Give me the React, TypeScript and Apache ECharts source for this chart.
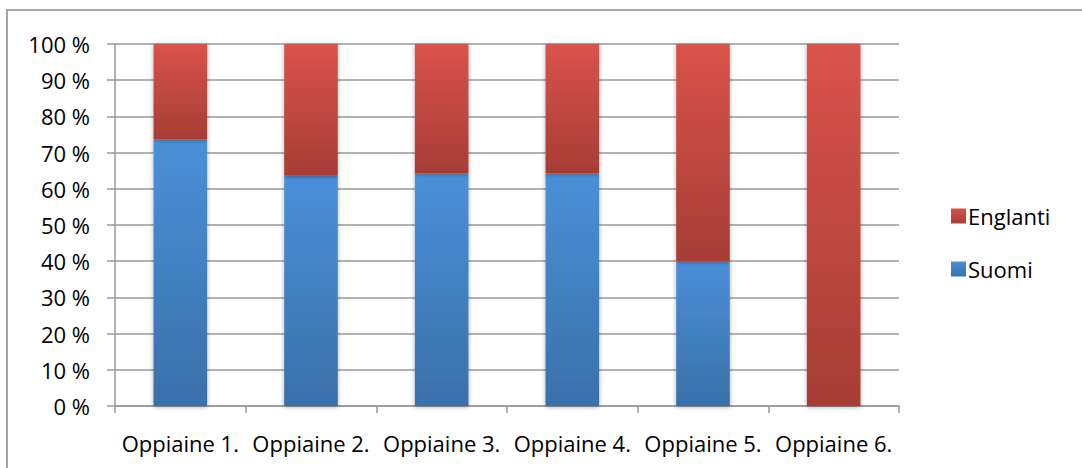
import React, { useEffect, useRef } from "react";
import * as echarts from "echarts";

// Subjects on the category axis
const categories = ["Oppiaine 1.", "Oppiaine 2.", "Oppiaine 3.", "Oppiaine 4.", "Oppiaine 5.", "Oppiaine 6."];
// Share of each language per subject, in percent
const suomi = [73.7, 63.6, 64.3, 64.3, 40, 0];
const englanti = [26.3, 36.4, 35.7, 35.7, 60, 100];
const legendOrder = ["Englanti", "Suomi"];

const FONT = "'Open Sans', 'Liberation Sans', sans-serif";
const FONT_SIZE = 22;

const grad = (top: string, bottom: string) =>
  new echarts.graphic.LinearGradient(0, 0, 0, 1, [
    { offset: 0, color: top },
    { offset: 1, color: bottom },
  ]);

export default function App() {
  const ref = useRef<HTMLDivElement>(null);

  useEffect(() => {
    if (!ref.current) return;
    const chart = echarts.init(ref.current, null, { renderer: "svg" });
    const barShadow = {
      shadowBlur: 4,
      shadowColor: "rgba(0,0,0,0.35)",
      shadowOffsetY: 1,
    };
    chart.setOption({
      animation: false,
      backgroundColor: "#ffffff",
      graphic: [
        {
          type: "rect",
          shape: { x: 7, y: 10, width: 1200, height: 600 },
          style: { fill: "none", stroke: "#a6a6a6", lineWidth: 2 },
          silent: true,
          z: 100,
        },
      ],
      grid: { left: 115, right: 183, top: 44, bottom: 62, containLabel: false },
      legend: {
        data: legendOrder,
        orient: "vertical",
        left: 946,
        top: 200,
        itemWidth: 15,
        itemHeight: 15,
        itemGap: 31,
        icon: "rect",
        textStyle: { fontFamily: FONT, fontSize: FONT_SIZE, color: "#000", padding: [0, 0, 0, -3] },
      },
      xAxis: {
        type: "category",
        data: categories,
        axisLine: { lineStyle: { color: "#999", width: 1.5 } },
        axisTick: { show: true, length: 7, lineStyle: { color: "#999", width: 1.5 } },
        axisLabel: {
          fontFamily: FONT,
          fontSize: FONT_SIZE,
          color: "#000",
          margin: 26,
          interval: 0,
          hideOverlap: false,
        },
      },
      yAxis: {
        type: "value",
        min: 0,
        max: 100,
        interval: 10,
        axisLine: { show: true, lineStyle: { color: "#999", width: 1.5 } },
        axisTick: { show: true, length: 8, inside: false, lineStyle: { color: "#999", width: 1.5 } },
        splitLine: { lineStyle: { color: "#999", width: 1.5 } },
        axisLabel: {
          fontFamily: FONT,
          fontSize: FONT_SIZE,
          color: "#000",
          margin: 25,
          formatter: (v: number) => `${v} %`,
        },
      },
      series: [
        {
          name: "Suomi",
          type: "bar",
          stack: "kieli",
          barWidth: "41%",
          data: suomi,
          itemStyle: { color: grad("#4a90d9", "#3a70a8"), ...barShadow },
        },
        {
          name: "Englanti",
          type: "bar",
          stack: "kieli",
          barWidth: "41%",
          data: englanti,
          itemStyle: { color: grad("#d9534b", "#a63d36"), ...barShadow },
        },
      ],
    });
    return () => chart.dispose();
  }, []);

  return (
    <div
      ref={ref}
      style={{ position: "fixed", left: 0, top: 0, width: 1082, height: 468 }}
    />
  );
}
